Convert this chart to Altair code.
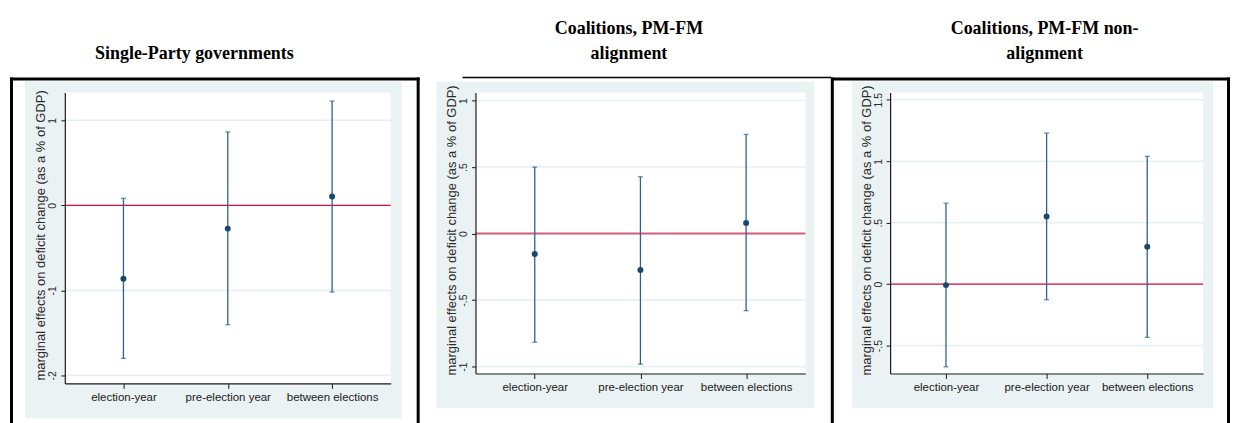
import altair as alt
import pandas as pd

categories = ["election-year", "pre-election year", "between elections"]
y_title = "marginal effects on deficit change (as a % of GDP)"

# Panel 1: Single-Party governments
p1_title = ["Single-Party governments"]
p1_est = [-0.864, -0.274, 0.105]
p1_lo = [-1.800, -1.403, -1.020]
p1_hi = [0.082, 0.863, 1.226]
p1_ticks = [-2, -1, 0, 1]

# Panel 2: Coalitions, PM-FM alignment
p2_title = ["Coalitions, PM-FM", "alignment"]
p2_est = [-0.154, -0.274, 0.080]
p2_lo = [-0.816, -0.981, -0.579]
p2_hi = [0.500, 0.427, 0.745]
p2_ticks = [-1, -0.5, 0, 0.5, 1]

# Panel 3: Coalitions, PM-FM non-alignment
p3_title = ["Coalitions, PM-FM non-", "alignment"]
p3_est = [-0.008, 0.551, 0.305]
p3_lo = [-0.673, -0.127, -0.433]
p3_hi = [0.659, 1.229, 1.040]
p3_ticks = [-0.5, 0, 0.5, 1, 1.5]

BG = "#eaf2f3"
GRID = "#e6eff1"
NAVY = "#1a476f"
BAR = "#33608a"
AXIS = "#1a1a1a"
SANS = "Liberation Sans"
SERIF = "Liberation Serif"

one = pd.DataFrame({"k": [0]})


def vrule(x, y0, y1, w, color="black"):
    return alt.Chart(one).mark_rule(color=color, strokeWidth=w).encode(
        x=alt.value(x), y=alt.value(y0), y2=alt.value(y1))


def hrule(y, x0, x1, w, color="black"):
    return alt.Chart(one).mark_rule(color=color, strokeWidth=w).encode(
        y=alt.value(y), x=alt.value(x0), x2=alt.value(x1))


def panel(est, lo, hi, ticks, dom, w, h, pad, gray, ytx, zc, zw,
          title_lines, title_x, first=False):
    df = pd.DataFrame({"cat": categories, "est": est, "lo": lo, "hi": hi})
    y_axis = alt.Axis(
        values=ticks, title=y_title, titleFont=SANS, titleFontSize=13,
        titleFontWeight="normal", titleColor="#2a2a2a", titleAngle=270,
        titleX=ytx, titleY=h / 2 - 3, titleAlign="center", titleBaseline="middle",
        labelAngle=270, labelAlign="center", labelBaseline="middle",
        labelPadding=8, labelFont=SANS, labelFontSize=10.5, labelColor="#2a2a2a",
        labelExpr="(datum.value < 0 ? '-' : '') + replace('' + abs(datum.value), '0.', '.')",
        tickSize=4, tickColor=AXIS, domainColor=AXIS, domainWidth=1.2,
        grid=False, zindex=1, labelOverlap=False)
    x_axis = alt.Axis(
        title=None, labelAngle=0, labelFont=SANS, labelFontSize=11.5,
        labelColor="#1a1a1a", labelPadding=3, tickSize=5, tickColor=AXIS,
        domainColor=AXIS, domainWidth=1.2, grid=False, zindex=1)
    x_enc = alt.X("cat:N", sort=categories,
                  scale=alt.Scale(type="point", padding=pad), axis=x_axis)

    def y_enc(field):
        return alt.Y(field, type="quantitative",
                     scale=alt.Scale(domain=dom, nice=False, zero=False),
                     axis=y_axis)

    layers = []
    if first:
        layers.append(alt.Chart(one).mark_rect(color="white").encode(
            x=alt.value(-55), x2=alt.value(1169), y=alt.value(-83), y2=alt.value(324)))
    layers.append(alt.Chart(one).mark_rect(color=BG).encode(
        x=alt.value(gray[0]), x2=alt.value(gray[1]),
        y=alt.value(gray[2]), y2=alt.value(gray[3])))
    layers.append(alt.Chart(one).mark_rect(color="white").encode(
        x=alt.value(0), x2=alt.value(w), y=alt.value(0), y2=alt.value(h)))
    layers.append(alt.Chart(pd.DataFrame({"v": ticks})).mark_rule(
        color=GRID, strokeWidth=1.6).encode(y=y_enc("v")))
    layers.append(alt.Chart(pd.DataFrame({"v": [0]})).mark_rule(
        color=zc, strokeWidth=zw).encode(y=y_enc("v")))
    base = alt.Chart(df)
    layers.append(base.mark_rule(color=BAR, strokeWidth=1.3).encode(
        x=x_enc, y=y_enc("lo"), y2="hi"))
    layers.append(base.mark_tick(color=BAR, size=5, thickness=1.3).encode(
        x=x_enc, y=y_enc("lo")))
    layers.append(base.mark_tick(color=BAR, size=5, thickness=1.3).encode(
        x=x_enc, y=y_enc("hi")))
    layers.append(base.mark_point(filled=True, color=NAVY, size=36, opacity=1).encode(
        x=x_enc, y=y_enc("est")))
    n = len(title_lines)
    for i, line in enumerate(title_lines):
        layers.append(alt.Chart(one).mark_text(
            font=SERIF, fontWeight="bold", fontSize=18, color="black",
            align="center", baseline="alphabetic").encode(
            x=alt.value(title_x), y=alt.value(-34 - 25 * (n - 1 - i)),
            text=alt.value(line)))
    if first:
        # table borders (panel-1 local coordinates)
        layers += [
            vrule(-53.5, -15, 332, 3),
            vrule(354.5, -15, 332, 3),
            vrule(770, -15, 332, 3),
            vrule(1167.5, -15, 332, 3),
            hrule(-13.5, -55, 356, 3),
            hrule(-15, 399, 769, 1.5),
            hrule(-13.5, 769, 1169, 3),
        ]
    return alt.layer(*layers).properties(width=w, height=h)


c1 = panel(p1_est, p1_lo, p1_hi, p1_ticks, [-2.095, 1.328], 327, 292, 0.562,
           (-40, 338, -11, 327), -24, "#d4103c", 1.4, p1_title, 130, first=True)
c2 = panel(p2_est, p2_lo, p2_hi, p2_ticks, [-1.051, 1.061], 331, 282, 0.561,
           (-39, 340, -11, 317), -24, "#d6617c", 2.0, p2_title, 154)
c3 = panel(p3_est, p3_lo, p3_hi, p3_ticks, [-0.727, 1.56], 314, 282, 0.555,
           (-38, 324, -11, 317), -24, "#d4103c", 1.4, p3_title, 155)

chart = alt.hconcat(c1, c2, c3, spacing=85, bounds="flush", padding=0).configure(
    background="white").configure_view(stroke="transparent")

chart.save("out.html", embed_options={"renderer": "svg", "actions": False})
